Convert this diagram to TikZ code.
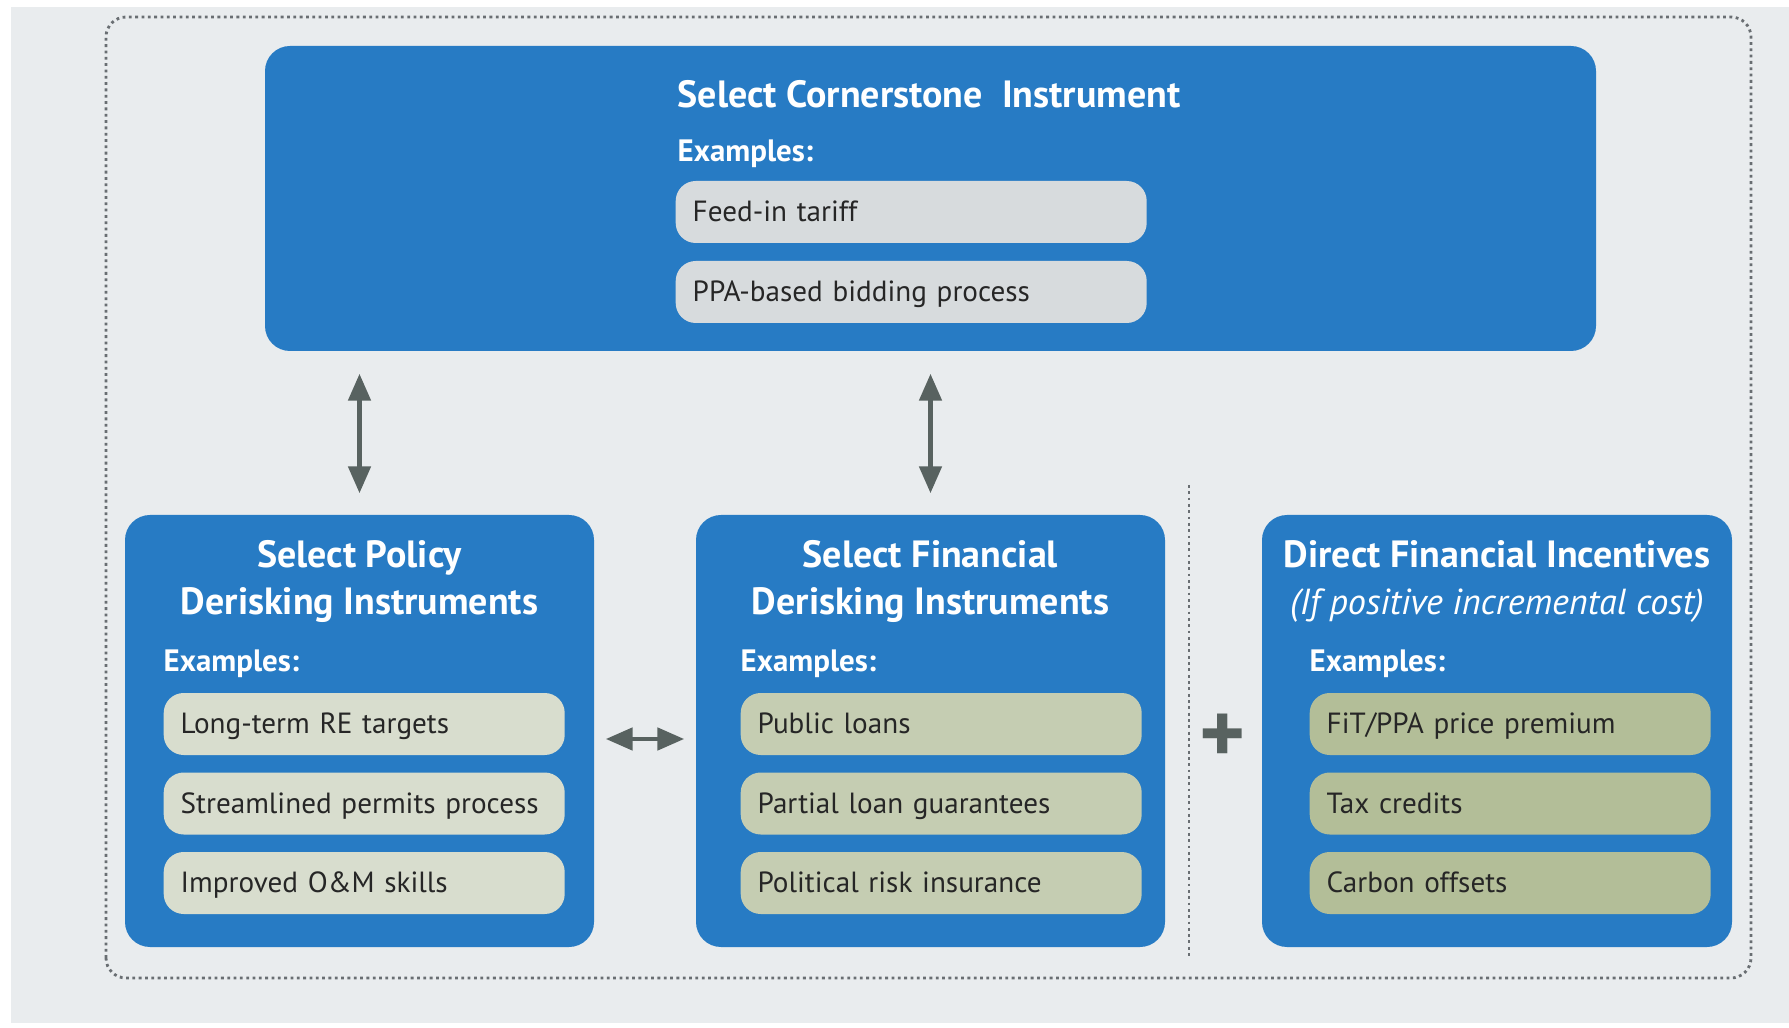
\documentclass[tikz,border=0pt]{standalone}
\usepackage{fontspec}
\setmainfont{PT Sans}
\usetikzlibrary{arrows.meta,positioning}
\definecolor{boxblue}{RGB}{39,123,196}
\definecolor{bggray}{RGB}{233,236,238}
\definecolor{framegray}{RGB}{105,110,114}
\definecolor{arrowgray}{RGB}{88,98,96}
\definecolor{cornergray}{RGB}{215,219,221}
\definecolor{policygreen}{RGB}{216,221,206}
\definecolor{finangreen}{RGB}{197,205,178}
\definecolor{directgreen}{RGB}{179,190,152}
\definecolor{itemtext}{RGB}{38,38,38}

\begin{document}
\begin{tikzpicture}[
    bluebox/.style={fill=boxblue,rounded corners=2.5mm,inner sep=0pt},
    headtext/.style={text=white,align=center,font=\fontsize{10.8}{13.3}\selectfont\bfseries},
    extext/.style={text=white,anchor=west,inner sep=0pt,font=\fontsize{8.8}{10}\selectfont\bfseries},
    itembox/.style={rounded corners=2mm,anchor=west,align=left,text=itemtext,
      inner xsep=1.7mm,minimum height=0.62cm,text width=3.67cm,text height=7pt,text depth=1.5pt,
      font=\fontsize{8.3}{10}\selectfont},
    twoway/.style={{Triangle[length=2.7mm,width=2.2mm]}-{Triangle[length=2.7mm,width=2.2mm]},
      arrowgray,line width=1.4pt}
  ]
    \useasboundingbox (0,0) rectangle (17.89,10.27);
    \fill[bggray] (0.11,0.04) rectangle (17.89,10.20);
    \draw[framegray,densely dotted,line width=0.8pt,rounded corners=2mm] (1.06,0.49) rectangle (17.51,10.10);

    % cornerstone
    \node[bluebox,minimum width=13.31cm,minimum height=3.05cm] (corner) at (9.305,8.285) {};
    \node[itembox,fill=cornergray,text width=4.37cm] (corner1) at (6.75,8.15) {Feed-in tariff};
    \node[itembox,fill=cornergray,text width=4.37cm] (corner2) at (6.75,7.35) {PPA-based bidding process};
    \node[extext] (cornerex) at (6.77,8.73) {Examples:};
    \node[extext,font=\fontsize{10.8}{12}\selectfont\bfseries] (cornerhead) at (6.77,9.33) {Select Cornerstone\ \ Instrument};

    % bottom row
    \node[bluebox,minimum width=4.69cm,minimum height=4.32cm] (pol) at (3.595,2.96) {};
    \node[bluebox,minimum width=4.69cm,minimum height=4.32cm] (fin) at (9.305,2.96) {};
    \node[bluebox,minimum width=4.70cm,minimum height=4.32cm] (dir) at (14.97,2.96) {};

    \node[headtext] (polhead) at (3.595,4.455) {Select Policy\\Derisking Instruments};
    \node[headtext] (finhead) at (9.305,4.455) {Select Financial\\Derisking Instruments};
    \node[headtext] (dirhead) at (14.97,4.455) {Direct Financial Incentives\\{\fontsize{10.3}{13.3}\selectfont\mdseries\itshape (If positive incremental cost)}};

    \node[extext] (polex) at (1.63,3.63) {Examples:};
    \node[extext] (finex) at (7.40,3.63) {Examples:};
    \node[extext] (direx) at (13.09,3.63) {Examples:};

    \foreach \t [count=\i] in {Long-term RE targets,Streamlined permits process,Improved O\&M skills}
      \node[itembox,fill=policygreen] (pol\i) at (1.63,{3.03-0.795*(\i-1)}) {\t};
    \foreach \t [count=\i] in {Public loans,Partial loan guarantees,Political risk insurance}
      \node[itembox,fill=finangreen] (fin\i) at (7.40,{3.03-0.795*(\i-1)}) {\t};
    \foreach \t [count=\i] in {FiT/PPA price premium,Tax credits,Carbon offsets}
      \node[itembox,fill=directgreen] (dir\i) at (13.09,{3.03-0.795*(\i-1)}) {\t};

    % links
    \draw[twoway,shorten <=2.2mm,shorten >=2.1mm] (corner.south -| pol.north) -- (pol.north);
    \draw[twoway,shorten <=2.2mm,shorten >=2.1mm] (corner.south -| fin.north) -- (fin.north);
    \draw[twoway,shorten <=1.1mm,shorten >=1.1mm] ([yshift=-0.8mm]pol.east) -- ([yshift=-0.8mm]fin.west);

    \draw[framegray,densely dotted,line width=0.8pt] (11.89,5.42) -- (11.89,0.71);
    \node[text=arrowgray,font=\fontsize{25}{25}\selectfont\bfseries] (plus) at (12.23,2.88) {+};
  \end{tikzpicture}
\end{document}
